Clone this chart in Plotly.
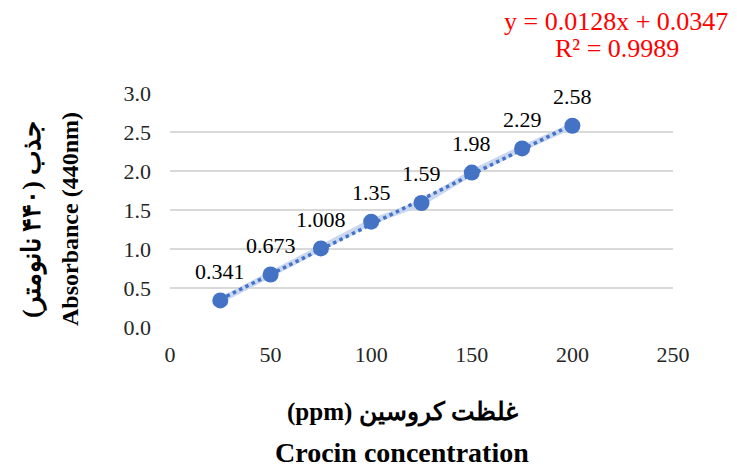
import plotly.graph_objects as go

concentration = [25, 50, 75, 100, 125, 150, 175, 200]
absorbance = [0.341, 0.673, 1.008, 1.35, 1.59, 1.98, 2.29, 2.58]
point_labels = ["0.341", "0.673", "1.008", "1.35", "1.59", "1.98", "2.29", "2.58"]
slope = 0.0128
intercept = 0.0347
r_squared = 0.9989
x_ticks = [0, 50, 100, 150, 200, 250]
y_ticks = [0.0, 0.5, 1.0, 1.5, 2.0, 2.5, 3.0]

FONT = "Liberation Serif, Times New Roman, serif"
BLUE = "#4472C4"
TXT = "#262626"

fig = go.Figure()

# light connecting line
fig.add_trace(go.Scatter(x=concentration, y=absorbance, mode="lines",
                         line=dict(color="#c9d7f0", width=6), hoverinfo="skip", showlegend=False))
# linear trendline
trend_x = [concentration[0], concentration[-1]]
trend_y = [slope * v + intercept for v in trend_x]
fig.add_trace(go.Scatter(x=trend_x, y=trend_y, mode="lines",
                         line=dict(color=BLUE, width=3.5, dash="dot"), showlegend=False))
# markers
fig.add_trace(go.Scatter(x=concentration, y=absorbance, mode="markers",
                         marker=dict(color=BLUE, size=16), showlegend=False))

for xv, yv, lab in zip(concentration, absorbance, point_labels):
    fig.add_annotation(x=xv, y=yv, xref="x", yref="y", text=lab, showarrow=False,
                       xanchor="center", yanchor="middle",
                       yshift=29, font=dict(family=FONT, size=22, color="#000"))

W, H = 729, 462
pl, pr, pt, pb = 162, 64, 85, 143
pw, ph = W - pl - pr, H - pt - pb
OFF = 8  # page body margin


def px(x):
    return (x - OFF - pl) / pw


def py(y):
    return (H - pb - (y - OFF)) / ph


fig.update_layout(
    width=W, height=H,
    margin=dict(l=pl, r=pr, t=pt, b=pb),
    plot_bgcolor="white", paper_bgcolor="white",
    font=dict(family=FONT, size=22, color=TXT),
    showlegend=False,
)


def label(xp, yp, text, size, color="#000", angle=0):
    fig.add_annotation(x=px(xp), y=py(yp), xref="paper", yref="paper", text=text,
                       showarrow=False, xanchor="center", yanchor="middle", textangle=angle,
                       font=dict(family=FONT, size=size, color=color))


label(616, 21, f"y = {slope}x + {intercept}", 26, "#ff0000")
label(617, 48, f"R² = {r_squared}", 26, "#ff0000")

# y title
label(32, 220, "<b>\u202Bجذب (۴۴۰ نانومتر)\u202C</b>", 26, angle=-90)
label(70, 219, "<b>Absorbance (440nm)</b>", 24, angle=-90)
# x title
label(402, 412, "<b>\u202Bغلظت کروسین (ppm)\u202C</b>", 25)
label(402, 452, "<b>Crocin concentration</b>", 28)

fig.update_xaxes(range=[0, 250], tickvals=x_ticks, ticktext=[str(v) for v in x_ticks],
                 showgrid=False, zeroline=False, showline=False, ticks="",
                 ticklabelstandoff=12,
                 tickfont=dict(family=FONT, size=22, color=TXT))
fig.update_yaxes(range=[0, 3.0], tickvals=y_ticks, ticktext=[f"{v:.1f}" for v in y_ticks],
                 showgrid=True, gridcolor="#d9d9d9", gridwidth=2, zeroline=False,
                 showline=False, ticks="", ticklabelstandoff=18,
                 tickfont=dict(family=FONT, size=22, color=TXT))

fig.write_html("out.html")
